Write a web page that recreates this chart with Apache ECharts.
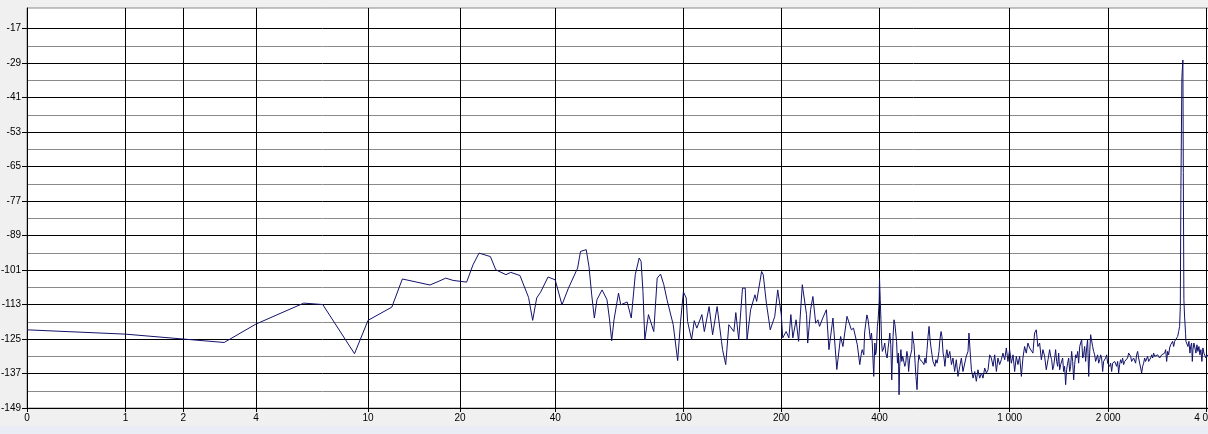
<!DOCTYPE html>
<html><head><meta charset="utf-8">
<script src="https://cdn.jsdelivr.net/npm/echarts@6/dist/echarts.min.js"></script>
<style>html,body{margin:0;padding:0;background:#f0f0f0;overflow:hidden}#c{width:1208px;height:434px}</style>
</head><body><div id="c"></div>
<script>
// Spectrum: frequency (Hz) and level (dB), per band
const lowFreq = [0,1,2,3,4,6,7,9,10,12,13,16,17,18,19,21,22,23,25,26,28,29,31,33,34,35,36,38,40,42,44,47,48,50,51,52,53,54,56,58,59,60,61,63,64,67,69,71,73,74,75,76,78,81,83,85,87,89,93,96,98,100,102,103,106,108,110,114,116,120,123,127,131,132,135,138];
const lowDb = [-121.8,-123.3,-125.0,-126.2,-119.8,-112.5,-113.0,-130.1,-118.5,-113.9,
-104.1,-106.2,-105.0,-103.8,-104.6,-105.2,-99.2,-95.1,-96.3,-100.9,
-102.6,-101.8,-102.9,-110.5,-118.5,-110.7,-108.7,-103.4,-104.4,-113.1,
-107.3,-100.3,-94.5,-93.9,-99.8,-109.6,-117.7,-111.3,-107.9,-111.3,
-117.7,-125.6,-118.3,-109.0,-113.1,-112.1,-117.7,-102.6,-96.8,-98.0,
-108.4,-125.2,-116.5,-122.4,-103.8,-102.4,-106.1,-111.3,-120.0,-132.5,
-118.9,-108.6,-110.7,-118.9,-125.2,-118.6,-121.2,-116.5,-122.4,-113.7,
-123.5,-113.7,-125.8,-128.7,-133.9,-120.0];

const midFreq = [143,145,148,152,155,157,161,166,168,174,176,180,185,191,195,200,202,207,211,214,217,222,226,232,239,241,246,250,255,259,262,268,275,280,288,296,304,309,318,328,333,342];
const midDb = [-122.4,-115.8,-125.2,-107.3,-107.3,-125.2,-114.8,-109.6,-111.9,-101.5,
-102.6,-112.5,-121.8,-117.1,-107.9,-116.5,-124.6,-122.4,-124.6,-116.5,
-124.6,-118.3,-125.8,-106.1,-116.5,-126.4,-114.8,-110.2,-119.5,-118.3,
-120.6,-117.7,-114.8,-128.7,-117.7,-135.6,-124.1,-127.6,-117.1,-121.8,
-121.2,-127.0];

const hiFreq = [348,352,354,358,360,363,366,369,371,375,378,380,384,387,389,391,394,396,399,400,402,404,406,408,412,415,418,422,425,428,430,433,436,438,440,443,446,451,454,457,459,461,465,468,471,474,478,481,485,488,491,495,498,502,504,506,510,514,517,521,525,528,532,536,540,543,547,551,555,559,563,567,571,575,579,583,587,591,595,600,604,608,612,617,621,626,630,634,639,643,648,653];
const hiDb = [-133.9,-129.9,-128.7,-130.5,-122.9,-119.5,-116.6,-118.3,-120.6,-125.2,
-122.9,-126.4,-138.0,-126.4,-130.5,-129.3,-120.6,-118.3,-111.9,-103.8,
-111.3,-118.3,-126.4,-129.3,-128.1,-126.4,-129.9,-131.6,-128.1,-125.2,
-122.9,-127.0,-139.2,-131.6,-124.1,-118.3,-120.0,-125.8,-133.4,-129.9,
-144.4,-134.5,-128.7,-132.8,-131.0,-130.5,-134.5,-133.4,-129.3,-131.0,
-136.3,-131.6,-130.5,-128.7,-122.4,-124.7,-127.0,-133.4,-138.0,-142.6,
-133.4,-130.5,-132.2,-131.6,-132.8,-132.2,-133.9,-131.6,-133.4,-128.7,
-124.1,-120.6,-125.2,-128.1,-130.5,-132.8,-132.2,-134.5,-132.2,-133.4,
-131.6,-129.3,-125.2,-122.4,-124.1,-129.9,-131.6,-134.5,-130.5,-128.7,
-131.6,-131.0];

const kiloFreq = [656,664,671,679,687,695,704,712,720,729,737,746,751,759,764,773,782,791,800,810,820,829,839,849,859,869,879,890,900,911,921,932,943,954,966,977,988,1000,1012,1024,1036,1048,1060,1073,1086,1098,1111,1124,1137,1151,1165,1178,1192,1206,1220,1235,1250,1264,1279,1294,1310,1325];
const kiloDb = [-129.3,-133.9,-131.6,-136.3,-132.2,-138.0,-134.5,-131.6,-136.3,-135.7,
-131.0,-129.3,-122.9,-131.0,-135.7,-138.6,-136.3,-139.7,-135.7,-138.6,
-136.8,-138.6,-135.1,-136.8,-135.7,-130.5,-131.6,-134.5,-130.5,-136.3,
-131.6,-133.9,-132.2,-129.9,-132.2,-128.1,-132.8,-128.7,-133.4,-130.5,
-136.3,-131.0,-133.9,-131.0,-138.0,-131.6,-127.6,-129.9,-126.4,-128.1,
-127.6,-129.9,-122.9,-121.8,-127.6,-126.4,-132.2,-128.7,-131.0,-135.7,
-132.2,-128.7];

const upperFreq = [1335,1344,1354,1363,1373,1382,1392,1402,1412,1422,1432,1442,1452,1462,1472,1483,1493,1504,1515,1526,1536,1547,1558,1569,1580,1591,1602,1614,1625,1637,1648,1660,1672,1683,1695,1707,1719,1731,1744,1756,1768,1781,1793,1806,1819,1831,1844,1857,1871,1884,1897,1910,1924,1937,1951,1965,1979,1993,2007,2021,2035,2050,2064,2079,2094,2108,2123,2138,2153,2168,2183,2199,2214,2230,2246,2261,2277,2293,2310,2326,2342,2359,2376,2392,2409,2426,2443,2461,2478,2496];
const upperDb = [-131.0,-132.2,-135.7,-134.5,-131.6,-128.7,-132.8,-134.5,-129.9,-135.7,
-133.9,-133.4,-131.6,-136.3,-134.5,-140.9,-135.7,-133.4,-131.6,-136.3,
-134.5,-129.3,-132.8,-139.2,-133.9,-130.5,-131.6,-129.3,-133.4,-127.6,
-126.4,-125.2,-131.6,-130.5,-127.6,-132.8,-128.1,-125.2,-138.0,-129.9,
-123.5,-122.9,-127.6,-129.3,-130.5,-132.8,-132.2,-130.5,-133.4,-132.2,
-130.5,-131.6,-136.3,-132.8,-132.8,-131.6,-130.5,-133.4,-132.8,-134.5,
-133.4,-136.3,-133.4,-133.9,-132.8,-132.2,-134.5,-132.8,-136.8,-133.9,
-132.2,-133.4,-131.6,-133.9,-132.8,-132.2,-133.4,-131.6,-129.9,-129.3,
-131.0,-132.8,-132.2,-131.6,-131.0,-133.4,-130.5,-129.3,-131.6,-132.2];

const topFreq = [2514,2531,2549,2567,2585,2603,2621,2640,2659,2678,2697,2716,2735,2754,2774,2793,2813,2833,2853,2873,2893,2914,2934,2955,2976,2997,3018,3039,3061,3082,3104,3126,3148,3170,3193,3215,3238,3261,3284,3306,
3322,3336,3359,3383,3393,3407,3423,3447,
3456,3481,3505,3530,3555,3572,3597,3615,3631,3656,3682,3708,3734,3761,3787,3813,3840,3867,3895,3922,3950,3978,4006,4034];
const topDb = [-135.1,-136.8,-134.5,-133.4,-131.6,-132.8,-132.2,-131.0,-132.8,-132.8,
-131.6,-130.5,-131.6,-129.9,-131.0,-130.5,-131.6,-130.5,-131.0,-131.6,
-132.2,-130.5,-131.0,-131.0,-129.9,-128.7,-132.8,-129.3,-130.5,-128.1,
-127.0,-127.6,-125.8,-127.6,-125.8,-125.2,-126.4,-124.1,-122.4,-120.6,
-113.7,-73.0,-34.0,-27.9,-67.0,-111.3,-117.0,-123.0,
-125.8,-126.4,-127.6,-125.8,-129.9,-127.6,-126.4,-132.8,-128.7,-126.4,-128.1,-129.9,-127.0,-129.3,-127.6,-130.5,-128.7,-132.8,-128.1,-129.9,-129.3,-131.6,-130.5,-131.0];

const xTickFreqs = [0,1,2,4,10,20,40,100,200,400,1000,2000,4000];
const xTickLabels = ['0','1','2','4','10','20','40','100','200','400','1 000','2 000','4 000'];
const yMajorTicks = [-149,-137,-125,-113,-101,-89,-77,-65,-53,-41,-29,-17];
const yGridLines = [-149,-143,-137,-131,-125,-119,-113,-107,-101,-95,-89,-83,-77,-71,-65,-59,-53,-47,-41,-35,-29,-23,-17];

const freqHz = [].concat(lowFreq, midFreq, hiFreq, kiloFreq, upperFreq, topFreq);
const levelDb = [].concat(lowDb, midDb, hiDb, kiloDb, upperDb, topDb);

const toLog = f => Math.log10(f + 1);
const data = freqHz.map((f, i) => [toLog(f), levelDb[i]]);
const xTicks = xTickFreqs.map(toLog);
const font = 'Liberation Sans, Arial, sans-serif';

const chart = echarts.init(document.getElementById('c'), null, {renderer: 'canvas'});
chart.setOption({
  animation: false,
  backgroundColor: '#f0f0f0',
  grid: {left: 27, right: -1, top: 8, bottom: 26, containLabel: false, outerBoundsMode: 'none',
         show: true, backgroundColor: '#ffffff', borderColor: '#8a8a8a', borderWidth: 1},
  graphic: [{type: 'rect', left: 0, top: 426, shape: {width: 1208, height: 8}, style: {fill: '#eaedf6'}, silent: true}],
  xAxis: {
    type: 'value', min: 0, max: 1182 / 327.5,
    axisLine: {show: true, lineStyle: {color: '#000', width: 1}},
    axisTick: {show: true, customValues: xTicks, length: 4, lineStyle: {color: '#000'}},
    axisLabel: {customValues: xTicks, color: '#000', fontFamily: font, fontSize: 10, margin: 5,
      formatter: v => { const i = xTicks.findIndex(t => Math.abs(t - v) < 1e-6); return i >= 0 ? xTickLabels[i] : ''; }},
    splitLine: {show: true, lineStyle: {color: '#000', width: 1}}
  },
  yAxis: [
    {type: 'value', min: -149, max: -9.8, position: 'left',
     axisLine: {show: true, lineStyle: {color: '#000'}},
     axisTick: {show: false, customValues: yGridLines},
     axisLabel: {show: false},
     splitLine: {show: true, lineStyle: {color: ['#000000', '#8a8a8a'], width: 1}}},
    {type: 'value', min: -149, max: -9.8, position: 'left',
     axisLine: {show: false},
     axisTick: {show: true, customValues: yMajorTicks, length: 5, lineStyle: {color: '#000'}},
     axisLabel: {customValues: yMajorTicks, color: '#000', fontFamily: font, fontSize: 10, margin: 6},
     splitLine: {show: false}}
  ],
  series: [{
    type: 'line', data: data, yAxisIndex: 0, showSymbol: false, symbol: 'none',
    lineStyle: {color: '#12126b', width: 1}, silent: true
  }]
});
</script></body></html>
